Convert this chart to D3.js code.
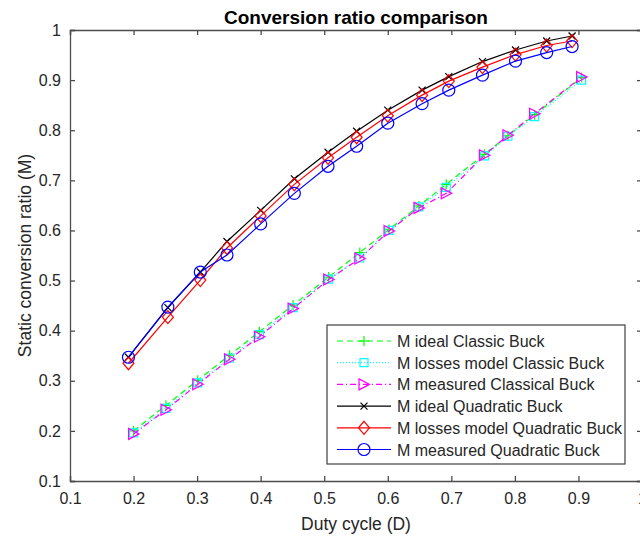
<!DOCTYPE html>
<html>
<head>
<meta charset="utf-8">
<script src="https://d3js.org/d3.v7.min.js"></script>
<style>
  body { margin: 0; background: #fff; }
  text { font-family: "Liberation Sans", Arial, sans-serif; fill: #262626; }
  .axis path, .axis line { stroke: #4d4d4d; stroke-width: 1.3; }
</style>
</head>
<body>
<script>
// duty cycle of the classic buck measurements
var dClassic = [0.200, 0.251, 0.301, 0.351, 0.398, 0.451, 0.507, 0.556, 0.602, 0.649, 0.692, 0.752, 0.789, 0.831, 0.905];
var mIdealClassic = [0.200, 0.251, 0.301, 0.351, 0.398, 0.451, 0.507, 0.556, 0.602, 0.649, 0.692, 0.752, 0.789, 0.831, 0.905];
var mLossClassic = [0.196, 0.245, 0.296, 0.345, 0.392, 0.446, 0.503, 0.545, 0.600, 0.647, 0.686, 0.749, 0.788, 0.827, 0.900];
var mMeasClassic = [0.194, 0.242, 0.293, 0.343, 0.388, 0.444, 0.502, 0.544, 0.599, 0.645, 0.674, 0.750, 0.790, 0.833, 0.906];

// duty cycle of the quadratic buck measurements
var dQuad = [0.192, 0.254, 0.305, 0.347, 0.400, 0.453, 0.506, 0.551, 0.600, 0.654, 0.696, 0.749, 0.801, 0.850, 0.890];
var mIdealQuad = [0.347, 0.446, 0.517, 0.578, 0.640, 0.703, 0.756, 0.798, 0.840, 0.880, 0.907, 0.937, 0.960, 0.978, 0.988];
var mLossQuad = [0.335, 0.427, 0.501, 0.565, 0.629, 0.692, 0.745, 0.786, 0.829, 0.870, 0.898, 0.926, 0.951, 0.969, 0.978];
var mMeasQuad = [0.347, 0.447, 0.517, 0.551, 0.613, 0.674, 0.728, 0.768, 0.814, 0.853, 0.880, 0.910, 0.938, 0.955, 0.967];

var ticks = [0.1, 0.2, 0.3, 0.4, 0.5, 0.6, 0.7, 0.8, 0.9, 1];

var series = [
  {name: "M ideal Classic Buck", x: dClassic, y: mIdealClassic, color: "#00ff00", dash: "6,4", marker: "plus"},
  {name: "M losses model Classic Buck", x: dClassic, y: mLossClassic, color: "#00ffff", dash: "1,2", marker: "square"},
  {name: "M measured Classical Buck", x: dClassic, y: mMeasClassic, color: "#ff00ff", dash: "6,3,1,3", marker: "tri"},
  {name: "M ideal Quadratic Buck", x: dQuad, y: mIdealQuad, color: "#000000", dash: null, marker: "cross"},
  {name: "M losses model Quadratic Buck", x: dQuad, y: mLossQuad, color: "#ff0000", dash: null, marker: "diamond"},
  {name: "M measured Quadratic Buck", x: dQuad, y: mMeasQuad, color: "#0000ff", dash: null, marker: "circle"}
];

var width = 640, height = 538;
var pLeft = 70, pRight = 642, pTop = 30, pBottom = 481;

var svg = d3.select("body").append("svg")
    .attr("width", width)
    .attr("height", height);

var x = d3.scaleLinear().domain([0.1, 1]).range([pLeft, pRight]);
var y = d3.scaleLinear().domain([0.1, 1]).range([pBottom, pTop]);

// axes, MATLAB style box with inward ticks
svg.append("g").attr("class", "axis")
    .attr("transform", "translate(0," + pBottom + ")")
    .call(d3.axisBottom(x).tickValues(ticks).tickFormat(d3.format("")).tickSize(-5).tickPadding(12))
    .call(g => g.selectAll("text").style("font-size", "16px"));
svg.append("g").attr("class", "axis")
    .attr("transform", "translate(0," + pTop + ")")
    .call(d3.axisTop(x).tickValues(ticks).tickFormat("").tickSize(-5));
svg.append("g").attr("class", "axis")
    .attr("transform", "translate(" + pLeft + ",0)")
    .call(d3.axisLeft(y).tickValues(ticks).tickFormat(d3.format("")).tickSize(-5).tickPadding(9))
    .call(g => g.selectAll("text").style("font-size", "16px"));
svg.append("g").attr("class", "axis")
    .attr("transform", "translate(" + pRight + ",0)")
    .call(d3.axisRight(y).tickValues(ticks).tickFormat("").tickSize(-5));
svg.selectAll(".axis text").attr("fill", "#262626");
svg.selectAll(".axis .domain").attr("stroke", "#4d4d4d");

// titles
svg.append("text").attr("x", (pLeft + pRight) / 2).attr("y", 24)
    .attr("text-anchor", "middle").style("font-size", "19px").style("font-weight", "bold")
    .style("fill", "#000").text("Conversion ratio comparison");
svg.append("text").attr("x", (pLeft + pRight) / 2).attr("y", 530)
    .attr("text-anchor", "middle").style("font-size", "17.5px").text("Duty cycle (D)");
svg.append("text").attr("transform", "translate(31," + (pTop + pBottom) / 2 + ") rotate(-90)")
    .attr("text-anchor", "middle").style("font-size", "17.5px").text("Static conversion ratio (M)");

function markerPath(type) {
  switch (type) {
    case "plus": return "M-5,0H5M0,-5V5";
    case "square": return "M-4,-4H4V4H-4Z";
    case "tri": return "M-5,-5.5L5.5,0L-5,5.5Z";
    case "cross": return "M-3.5,-3.5L3.5,3.5M-3.5,3.5L3.5,-3.5";
    case "diamond": return "M0,-6.5L5.5,0L0,6.5L-5.5,0Z";
    case "circle": return "M6,0A6,6 0 1,1 -6,0A6,6 0 1,1 6,0Z";
  }
}

var line = d3.line().x(d => x(d[0])).y(d => y(d[1]));

var plot = svg.append("g");

series.forEach(function(s) {
  var pts = s.x.map((d, i) => [d, s.y[i]]);
  var g = plot.append("g");
  g.append("path").attr("d", line(pts))
      .attr("fill", "none").attr("stroke", s.color).attr("stroke-width", 1.2)
      .attr("stroke-dasharray", s.dash);
  g.selectAll("path.mk").data(pts).enter().append("path")
      .attr("class", "mk")
      .attr("transform", d => "translate(" + x(d[0]) + "," + y(d[1]) + ")")
      .attr("d", markerPath(s.marker))
      .attr("fill", "none").attr("stroke", s.color).attr("stroke-width", 1.2);
});

// legend
var lx = 327, ly = 325, lw = 298, lh = 139, rowH = 21.7;
var legend = svg.append("g");
legend.append("rect").attr("x", lx).attr("y", ly).attr("width", lw).attr("height", lh)
    .attr("fill", "#fff").attr("stroke", "#4d4d4d").attr("stroke-width", 1.3);
series.forEach(function(s, i) {
  var cy = ly + 16 + i * rowH;
  legend.append("line").attr("x1", lx + 10).attr("x2", lx + 64).attr("y1", cy).attr("y2", cy)
      .attr("stroke", s.color).attr("stroke-width", 1.2).attr("stroke-dasharray", s.dash);
  legend.append("path").attr("transform", "translate(" + (lx + 37) + "," + cy + ")")
      .attr("d", markerPath(s.marker)).attr("fill", "none").attr("stroke", s.color).attr("stroke-width", 1.2);
  legend.append("text").attr("x", lx + 70).attr("y", cy + 6)
      .style("font-size", "16px").text(s.name);
});
</script>
</body>
</html>
